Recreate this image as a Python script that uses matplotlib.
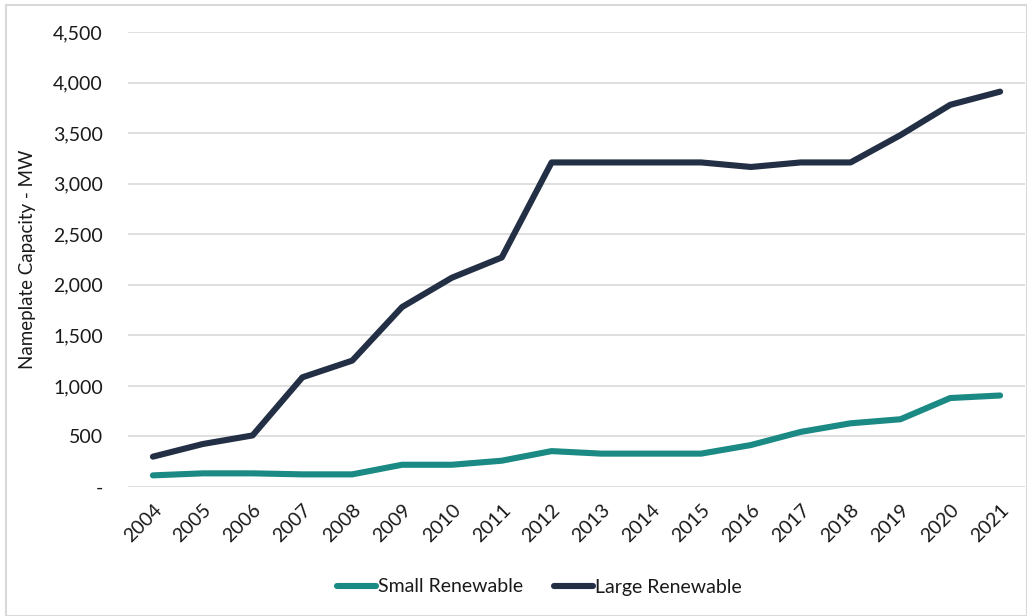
import matplotlib
matplotlib.use("Agg")
import matplotlib.pyplot as plt
from matplotlib.ticker import FuncFormatter
from matplotlib.patches import Rectangle

plt.rcParams['font.family'] = ['Lato', 'DejaVu Sans']

years = [str(y) for y in range(2004, 2022)]
small_renewable = [115, 135, 135, 125, 125, 220, 220, 260, 355, 330, 330, 330,
                   415, 545, 630, 670, 880, 905]
large_renewable = [300, 425, 510, 1085, 1250, 1780, 2070, 2270, 3210, 3210, 3210,
                   3210, 3165, 3210, 3210, 3480, 3780, 3910]

teal = '#1b8a84'
navy = '#232f45'
text_col = '#1a1a1a'

fig = plt.figure(figsize=(10.27, 6.16), dpi=100)
ax = fig.add_axes([128 / 1027, 1 - 487 / 616, (1025 - 128) / 1027, (487 - 32) / 616])

x = list(range(len(years)))
ax.plot(x, small_renewable, color=teal, lw=4.4, solid_capstyle='round',
        solid_joinstyle='round', label='Small Renewable', zorder=3)
ax.plot(x, large_renewable, color=navy, lw=4.4, solid_capstyle='round',
        solid_joinstyle='round', label='Large Renewable', zorder=3)

ax.set_xlim(-0.5, len(years) - 0.5)
ax.set_ylim(0, 4500)
ax.set_yticks(range(0, 4501, 500))
ax.yaxis.set_major_formatter(FuncFormatter(lambda v, p: '-' if v == 0 else f'{int(v):,}'))
ax.set_xticks(x)
ax.set_xticklabels(years, rotation=45, ha='right', rotation_mode='anchor')

ax.grid(axis='y', color='#d9d9d9', lw=1.2)
ax.set_axisbelow(True)
for s in ax.spines.values():
    s.set_visible(False)
ax.tick_params(axis='both', length=0, labelsize=14, colors=text_col)
ax.tick_params(axis='y', pad=18)
ax.tick_params(axis='x', pad=10)

ax.set_ylabel('Nameplate Capacity - MW', fontsize=13.5, color=text_col, labelpad=12)

fig.legend(loc='center', bbox_to_anchor=(539 / 1027, 1 - 587 / 616), ncol=2,
           frameon=False, fontsize=14, handlelength=2.0, handletextpad=0.1,
           columnspacing=1.6, labelcolor=text_col)

fig.patches.append(Rectangle((6 / 1027, 0), 1 - 6 / 1027, 1 - 5 / 616,
                             transform=fig.transFigure, fill=False,
                             edgecolor='#d9d9d9', lw=1.5))

fig.savefig('out.png', dpi=100)
